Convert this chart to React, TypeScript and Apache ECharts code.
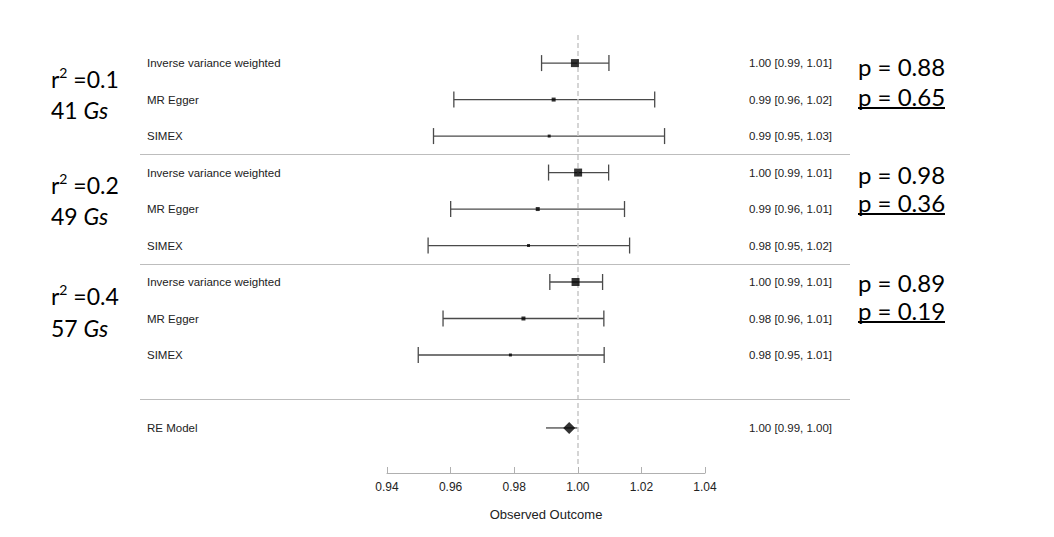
import React, { useEffect, useRef } from "react";
import * as echarts from "echarts";

// ---- data ----
const methods = ["Inverse variance weighted", "MR Egger", "SIMEX"];
const r2Values = ["0.1", "0.2", "0.4"];
const instrumentCounts = [41, 49, 57];
const pIVW = ["0.88", "0.98", "0.89"];
const pEgger = ["0.65", "0.36", "0.19"];

// estimates (3 groups x 3 methods)
const estimates = [0.9991, 0.9924, 0.991, 1.0001, 0.9874, 0.9845, 0.9993, 0.9829, 0.9788];
const lower = [0.9886, 0.961, 0.9546, 0.9908, 0.96, 0.9529, 0.9912, 0.9576, 0.9498];
const upper = [1.0098, 1.0242, 1.0273, 1.0097, 1.0147, 1.0163, 1.0078, 1.0082, 1.0083];

const reLabel = "RE Model";
const reEstimate = 0.9973;
const reLower = 0.99;
const reUpper = 1.0;

const axisTicks = [0.94, 0.96, 0.98, 1.0, 1.02, 1.04];

// ---- layout / style ----
const reRow = 10;
const separators = [2.5, 5.5, 9.2];
const markerSize: Record<string, number> = {
  "Inverse variance weighted": 8,
  "MR Egger": 4,
  SIMEX: 3,
};
const labelY = [
  [79, 110],
  [185, 216],
  [296, 328],
];
const pY = [
  [66, 96],
  [174, 202],
  [282, 310],
];
const SMALL = '"Liberation Sans", Arial, sans-serif';
const BIG = 'Lato, "Open Sans", sans-serif';

export default function App() {
  const ref = useRef<HTMLDivElement>(null);

  useEffect(() => {
    const chart = echarts.init(ref.current!, null, { renderer: "svg" });

    const rowLabels = [...estimates.map((_, i) => methods[i % 3]), reLabel];
    const rowEst = [...estimates, reEstimate];
    const rowLo = [...lower, reLower];
    const rowHi = [...upper, reUpper];
    const rowIdx = [...estimates.map((_, i) => i), reRow];

    const graphic: any[] = [];
    for (let g = 0; g < 3; g++) {
      graphic.push({
        type: "text",
        x: 51,
        y: labelY[g][0],
        style: {
          text: `{a|r}{s|2}{a| =${r2Values[g]}}`,
          verticalAlign: "middle",
          fill: "#000",
          rich: {
            a: { fontSize: 23, fontFamily: BIG, fill: "#000", lineHeight: 27 },
            s: { fontSize: 14, fontFamily: BIG, fill: "#000", lineHeight: 15, verticalAlign: "top" },
          },
        },
      });
      graphic.push({
        type: "text",
        x: 51,
        y: labelY[g][1],
        style: {
          text: `{a|${instrumentCounts[g]} }{i|Gs}`,
          verticalAlign: "middle",
          fill: "#000",
          rich: {
            a: { fontSize: 23, fontFamily: BIG, fill: "#000" },
            i: { fontSize: 23, fontFamily: BIG, fontStyle: "italic", fill: "#000" },
          },
        },
      });
      graphic.push({
        type: "text",
        x: 858,
        y: pY[g][0],
        style: { text: `p = ${pIVW[g]}`, font: `24px ${BIG}`, fill: "#000", verticalAlign: "middle" },
      });
      graphic.push({
        type: "text",
        x: 858,
        y: pY[g][1],
        style: { text: `p = ${pEgger[g]}`, font: `24px ${BIG}`, fill: "#000", verticalAlign: "middle" },
      });
      graphic.push({
        type: "line",
        shape: { x1: 858, y1: pY[g][1] + 12, x2: 945, y2: pY[g][1] + 12 },
        style: { stroke: "#000", lineWidth: 1.8 },
      });
    }

    const option: any = {
      animation: false,
      backgroundColor: "#fff",
      graphic,
      grid: [
        { left: 140, right: 204, top: 35, bottom: 70 },
        { left: 387, right: 349, top: 467, bottom: 64 },
      ],
      xAxis: [
        { gridIndex: 0, type: "value", min: 0.86225, max: 1.08565, show: false },
        {
          gridIndex: 1,
          type: "value",
          min: axisTicks[0],
          max: axisTicks[axisTicks.length - 1],
          interval: 0.02,
          splitLine: { show: false },
          axisLine: { show: true, lineStyle: { color: "#b0b0b0", width: 1 } },
          axisTick: { show: true, inside: true, length: 6, lineStyle: { color: "#b0b0b0" } },
          axisLabel: {
            margin: 8,
            fontSize: 12,
            fontFamily: SMALL,
            color: "#222",
            formatter: (v: number) => v.toFixed(2),
          },
          name: "Observed Outcome",
          nameLocation: "middle",
          nameGap: 35,
          nameTextStyle: { fontSize: 13, fontFamily: SMALL, color: "#222" },
        },
      ],
      yAxis: [
        { gridIndex: 0, type: "value", inverse: true, min: -0.77, max: 11.07, show: false },
        { gridIndex: 1, type: "value", show: false },
      ],
      series: [
        {
          type: "line",
          xAxisIndex: 0,
          yAxisIndex: 0,
          data: [],
          markLine: {
            silent: true,
            symbol: "none",
            label: { show: false },
            data: [
              { xAxis: 1.0, lineStyle: { color: "#c8c8c8", type: [5, 3], width: 1.5 } },
              ...separators.map((s) => ({ yAxis: s, lineStyle: { color: "#bdbdbd", type: "solid", width: 1.2 } })),
            ],
          },
        },
        {
          type: "custom",
          xAxisIndex: 0,
          yAxisIndex: 0,
          clip: false,
          data: estimates.map((_, i) => [lower[i], upper[i], i]),
          encode: { x: [0, 1], y: 2 },
          renderItem: (params: any, api: any) => {
            const l = api.coord([api.value(0), api.value(2)]);
            const h = api.coord([api.value(1), api.value(2)]);
            const cap = 8;
            const st = { stroke: "#4a4a4a", lineWidth: 1.3 };
            return {
              type: "group",
              children: [
                { type: "line", shape: { x1: l[0], y1: l[1], x2: h[0], y2: h[1] }, style: st },
                { type: "line", shape: { x1: l[0], y1: l[1] - cap, x2: l[0], y2: l[1] + cap }, style: st },
                { type: "line", shape: { x1: h[0], y1: h[1] - cap, x2: h[0], y2: h[1] + cap }, style: st },
              ],
            };
          },
        },
        {
          type: "custom",
          xAxisIndex: 0,
          yAxisIndex: 0,
          clip: false,
          data: [[reLower, reUpper, reRow]],
          encode: { x: [0, 1], y: 2 },
          renderItem: (params: any, api: any) => {
            const l = api.coord([api.value(0), api.value(2)]);
            const h = api.coord([api.value(1), api.value(2)]);
            return {
              type: "line",
              shape: { x1: l[0], y1: l[1], x2: h[0], y2: h[1] },
              style: { stroke: "#111", lineWidth: 1 },
            };
          },
        },
        {
          type: "scatter",
          xAxisIndex: 0,
          yAxisIndex: 0,
          symbol: "rect",
          data: estimates.map((e, i) => [e, i]),
          symbolSize: (_v: any, p: any) => markerSize[methods[p.dataIndex % 3]],
          itemStyle: { color: "#000" },
          z: 5,
        },
        {
          type: "scatter",
          xAxisIndex: 0,
          yAxisIndex: 0,
          symbol: "diamond",
          data: [[reEstimate, reRow]],
          symbolSize: [12, 12],
          itemStyle: { color: "#000" },
          z: 5,
        },
        {
          type: "custom",
          xAxisIndex: 0,
          yAxisIndex: 0,
          clip: false,
          data: rowIdx.map((r, i) => [rowEst[i], r]),
          encode: { x: 0, y: 1 },
          renderItem: (params: any, api: any) => {
            const i = params.dataIndex;
            const y = api.coord([api.value(0), api.value(1)])[1];
            const cs = params.coordSys;
            return {
              type: "group",
              children: [
                {
                  type: "text",
                  x: cs.x + 7,
                  y,
                  style: {
                    text: rowLabels[i],
                    font: `11.5px ${SMALL}`,
                    fill: "#222",
                    align: "left",
                    verticalAlign: "middle",
                  },
                },
                {
                  type: "text",
                  x: cs.x + cs.width - 18,
                  y,
                  style: {
                    text: `${rowEst[i].toFixed(2)} [${rowLo[i].toFixed(2)}, ${rowHi[i].toFixed(2)}]`,
                    font: `11.5px ${SMALL}`,
                    fill: "#222",
                    align: "right",
                    verticalAlign: "middle",
                  },
                },
              ],
            };
          },
        },
      ],
    };

    chart.setOption(option);
    return () => chart.dispose();
  }, []);

  return (
    <div
      ref={ref}
      style={{ position: "fixed", left: 0, top: 0, width: 1054, height: 537, background: "#fff" }}
    />
  );
}
